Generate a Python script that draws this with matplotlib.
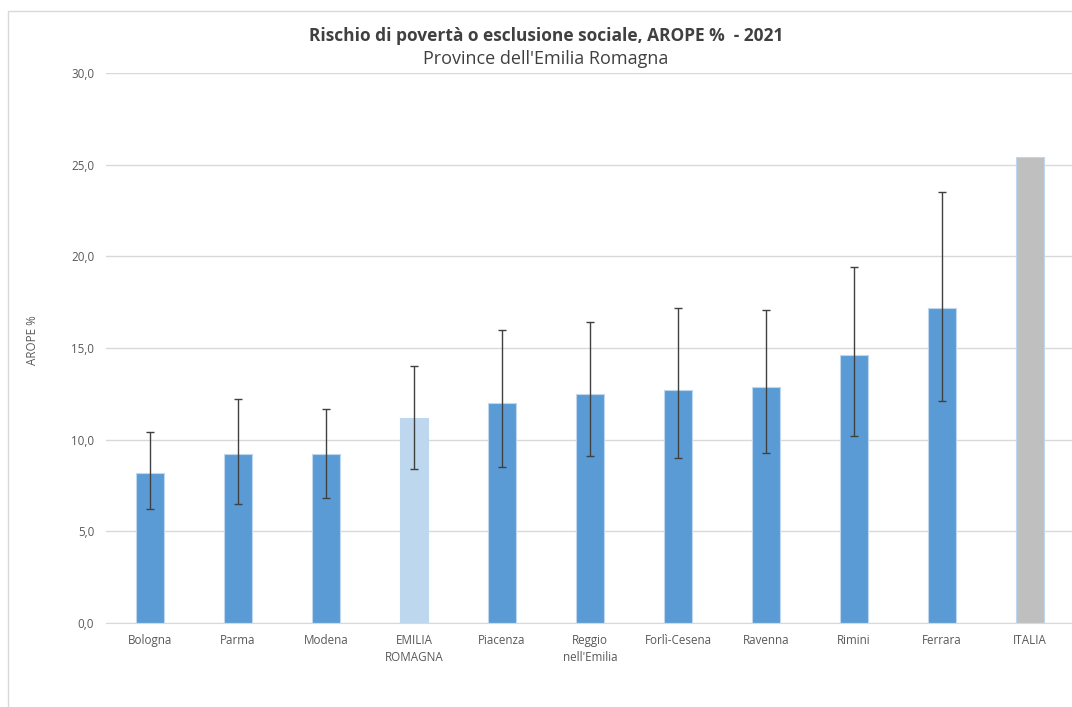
import matplotlib
matplotlib.use("Agg")
import matplotlib.pyplot as plt
from matplotlib.patches import Rectangle
from matplotlib.ticker import FuncFormatter

categories = ["Bologna", "Parma", "Modena", "EMILIA\nROMAGNA", "Piacenza",
              "Reggio\nnell'Emilia", "Forlì-Cesena", "Ravenna", "Rimini",
              "Ferrara", "ITALIA"]
values = [8.2, 9.2, 9.2, 11.2, 12.0, 12.5, 12.7, 12.9, 14.6, 17.2, 25.4]
err_low = [6.2, 6.5, 6.8, 8.4, 8.5, 9.1, 9.0, 9.3, 10.2, 12.1, None]
err_high = [10.4, 12.2, 11.7, 14.0, 16.0, 16.4, 17.2, 17.1, 19.4, 23.5, None]
colors = ["#5B9BD5"] * 3 + ["#BDD7EE"] + ["#5B9BD5"] * 6 + ["#BFBFBF"]

plt.rcParams['font.family'] = ['Open Sans', 'DejaVu Sans']

fig = plt.figure(figsize=(10.72, 7.07), dpi=100)
fig.patches.append(Rectangle((8/1072, -0.1), 1.2, 1 - 11/707 + 0.1,
                             transform=fig.transFigure, fill=False,
                             edgecolor="#D9D9D9", linewidth=1.0))

ax = fig.add_axes([106/1072, 1 - 623/707, 968/1072, 550/707])
x = list(range(len(categories)))
ax.bar(x, values, width=0.31, color=colors, edgecolor="#BDD7EE",
       linewidth=0.8, zorder=2)

ex, ey, lo, hi = [], [], [], []
for i, (v, l, h) in enumerate(zip(values, err_low, err_high)):
    if l is None:
        continue
    ex.append(i)
    ey.append(v)
    lo.append(v - l)
    hi.append(h - v)
ax.errorbar(ex, ey, yerr=[lo, hi], fmt='none', ecolor="#404040",
            elinewidth=1.0, capsize=3, capthick=1.0, zorder=3)

ax.set_xlim(-0.5, len(categories) - 0.5)
ax.set_ylim(0, 30)
ax.set_yticks([0, 5, 10, 15, 20, 25, 30])
ax.yaxis.set_major_formatter(FuncFormatter(lambda v, p: f"{v:.1f}".replace(".", ",")))
ax.grid(axis='y', color="#D9D9D9", linewidth=1.0, zorder=0)
ax.set_axisbelow(True)
for s in ax.spines.values():
    s.set_visible(False)
ax.spines['bottom'].set_visible(True)
ax.spines['bottom'].set_color("#D9D9D9")
ax.tick_params(axis='both', length=0, colors="#595959", labelsize=8.4)
ax.tick_params(axis='y', pad=8.5)
ax.tick_params(axis='x', pad=8)
ax.set_xticks(x)
ax.set_xticklabels(categories, linespacing=1.35)

fig.text(546/1072, 1 - 36/707, "Rischio di povertà o esclusione sociale, AROPE %  - 2021",
         ha='center', va='center', fontsize=12.5, fontweight='bold', color="#404040")
fig.text(546/1072, 1 - 59/707, "Province dell'Emilia Romagna",
         ha='center', va='center', fontsize=13, color="#404040")
fig.text(33/1072, 1 - 340/707, "AROPE %", rotation=90, ha='center', va='center',
         fontsize=8.4, color="#595959")

fig.savefig("out.png", dpi=100)
